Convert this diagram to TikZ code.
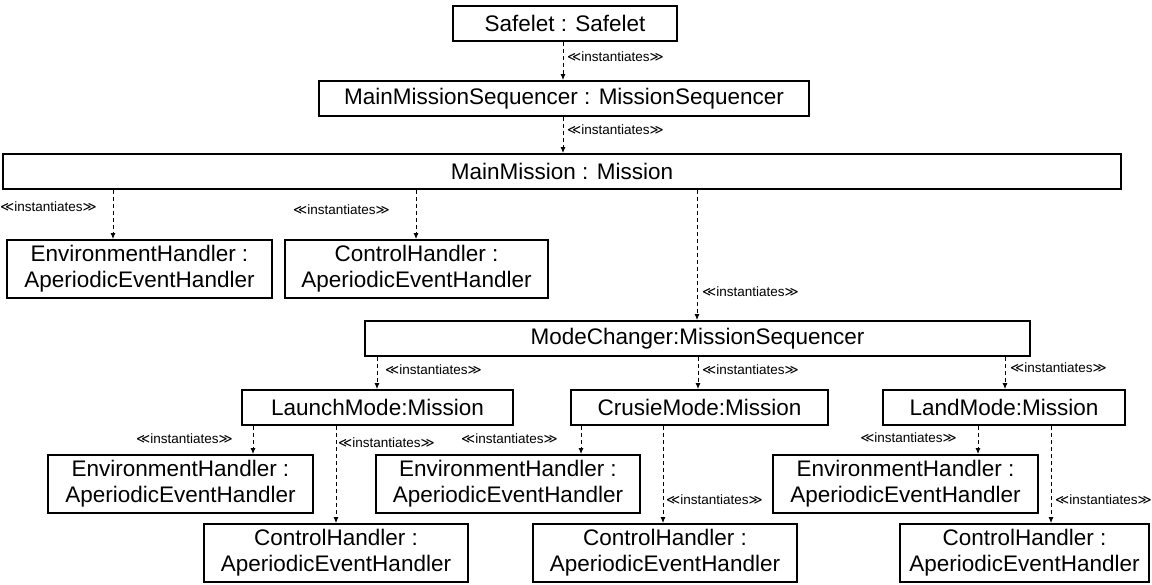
\documentclass[tikz,border=0pt]{standalone}
\usepackage{fontspec}
\setmainfont{Liberation Sans}
\newfontfamily\symfont{DejaVu Sans}
\usetikzlibrary{arrows.meta}
\newcommand\stereo{{\symfont ≪}instantiates{\symfont ≫}}

\tikzset{
  objbox/.style={draw, line width=1.8pt, inner sep=0pt, align=center,
    font=\fontsize{22.5}{26}\selectfont},
  dep/.style={line width=1pt, dash pattern=on 4pt off 3pt,
    -{Latex[length=6pt,width=5pt]}},
  lbl/.style={inner sep=0pt, font=\fontsize{13.5}{15}\selectfont},
}
% object box from its corners (x1,y1) to (x2,y2)
\newcommand\objat[6]{%
  \node[objbox, minimum width=#4pt-#2pt, minimum height=#5pt-#3pt]
    (#1) at ({(#2+#4)/2},{(#3+#5)/2}) {#6};}

\begin{document}
\begin{tikzpicture}[x=1pt,y=-1pt]
\useasboundingbox (0,0) rectangle (1152,585);

\objat{safelet}{453}{6}{677}{41}{Safelet : Safelet}
\objat{mms}{319}{81}{809}{116}{MainMissionSequencer : MissionSequencer}
\objat{mm}{3}{154}{1121}{189}{MainMission : Mission}
\objat{envA}{7}{240}{272}{298}{EnvironmentHandler :\\ AperiodicEventHandler}
\objat{ctrlA}{285}{240}{548}{298}{ControlHandler :\\ AperiodicEventHandler}
\objat{mc}{365}{321}{1030}{356}{ModeChanger:MissionSequencer}
\objat{launch}{242}{390}{513}{425}{LaunchMode:Mission}
\objat{cruise}{571}{390}{828}{425}{CrusieMode:Mission}
\objat{land}{883}{390}{1125}{425}{LandMode:Mission}
\objat{envB}{48}{455}{313}{513}{EnvironmentHandler :\\ AperiodicEventHandler}
\objat{ctrlB}{204}{524}{468}{582}{ControlHandler :\\ AperiodicEventHandler}
\objat{envC}{376}{455}{640}{513}{EnvironmentHandler :\\ AperiodicEventHandler}
\objat{ctrlC}{533}{524}{797}{582}{ControlHandler :\\ AperiodicEventHandler}
\objat{envD}{773}{455}{1038}{513}{EnvironmentHandler :\\ AperiodicEventHandler}
\objat{ctrlD}{900}{524}{1149}{582}{ControlHandler :\\ AperiodicEventHandler}

% instantiation dependencies
\draw[dep] (safelet.south -| 563,0) -- (mms.north -| 563,0);
\draw[dep] (mms.south -| 563,0) -- (mm.north -| 563,0);
\draw[dep] (mm.south -| 113,0) -- (envA.north -| 113,0);
\draw[dep] (mm.south -| 416,0) -- (ctrlA.north -| 416,0);
\draw[dep] (mm.south -| 697,0) -- (mc.north -| 697,0);
\draw[dep] (mc.south -| 377,0) -- (launch.north -| 377,0);
\draw[dep] (mc.south -| 698,0) -- (cruise.north -| 698,0);
\draw[dep] (mc.south -| 1005,0) -- (land.north -| 1005,0);
\draw[dep] (launch.south -| 253,0) -- (envB.north -| 253,0);
\draw[dep] (launch.south -| 336,0) -- (ctrlB.north -| 336,0);
\draw[dep] (cruise.south -| 581,0) -- (envC.north -| 581,0);
\draw[dep] (cruise.south -| 663,0) -- (ctrlC.north -| 663,0);
\draw[dep] (land.south -| 978,0) -- (envD.north -| 978,0);
\draw[dep] (land.south -| 1051,0) -- (ctrlD.north -| 1051,0);

% stereotype labels
\node[lbl, anchor=west] (s1) at (567,57) {\stereo};
\node[lbl, anchor=west] (s2) at (567,130) {\stereo};
\node[lbl, anchor=east] (s3) at (97,207) {\stereo};
\node[lbl, anchor=east] (s4) at (390,210) {\stereo};
\node[lbl, anchor=west] (s5) at (702,292) {\stereo};
\node[lbl, anchor=west] (s6) at (385,370) {\stereo};
\node[lbl, anchor=west] (s7) at (702,370) {\stereo};
\node[lbl, anchor=west] (s8) at (1010,368) {\stereo};
\node[lbl, anchor=east] (s9) at (233,439) {\stereo};
\node[lbl, anchor=west] (s10) at (338,443) {\stereo};
\node[lbl, anchor=east] (s11) at (558,439) {\stereo};
\node[lbl, anchor=west] (s12) at (666,500) {\stereo};
\node[lbl, anchor=east] (s13) at (957,438) {\stereo};
\node[lbl, anchor=west] (s14) at (1055,500) {\stereo};
\end{tikzpicture}
\end{document}
